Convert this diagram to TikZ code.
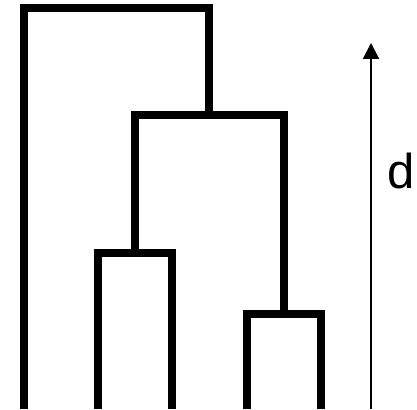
\documentclass[tikz,border=0pt]{standalone}
\usepackage{fontspec}
\setmainfont{Liberation Sans}
\usetikzlibrary{arrows.meta}
\begin{document}
\begin{tikzpicture}[x=1pt,y=1pt,
  branch/.style={line width=8pt, line join=miter, line cap=butt},
  axis/.style={line width=2pt, -{Triangle[length=16pt,width=16pt]}}]
\useasboundingbox (0,0) rectangle (417,409);
% leaves (at the bottom edge)
\coordinate (l1) at (23.5,0);
\coordinate (l2) at (97.5,0);
\coordinate (l3) at (172,0);
\coordinate (l4) at (246.5,0);
\coordinate (l5) at (321,0);
% merge points
\coordinate (m1) at (134.75,156);
\coordinate (m2) at (283.75,95);
\coordinate (m3) at (209.25,294);
\coordinate (m4) at (116.4,401);
% dendrogram branches
\draw[branch] (l2) |- (m1) -| (l3);
\draw[branch] (l4) |- (m2) -| (l5);
\draw[branch] (m1) |- (m3) -| (m2);
\draw[branch] (l1) |- (m4) -| (m3);
% distance axis
\coordinate (a0) at (371,0);
\coordinate (a1) at (371,366);
\draw[axis] (a0) -- (a1);
\node[anchor=base west, inner sep=0pt, font=\fontsize{49}{49}\selectfont] (d) at (387,220) {d};
\end{tikzpicture}
\end{document}
